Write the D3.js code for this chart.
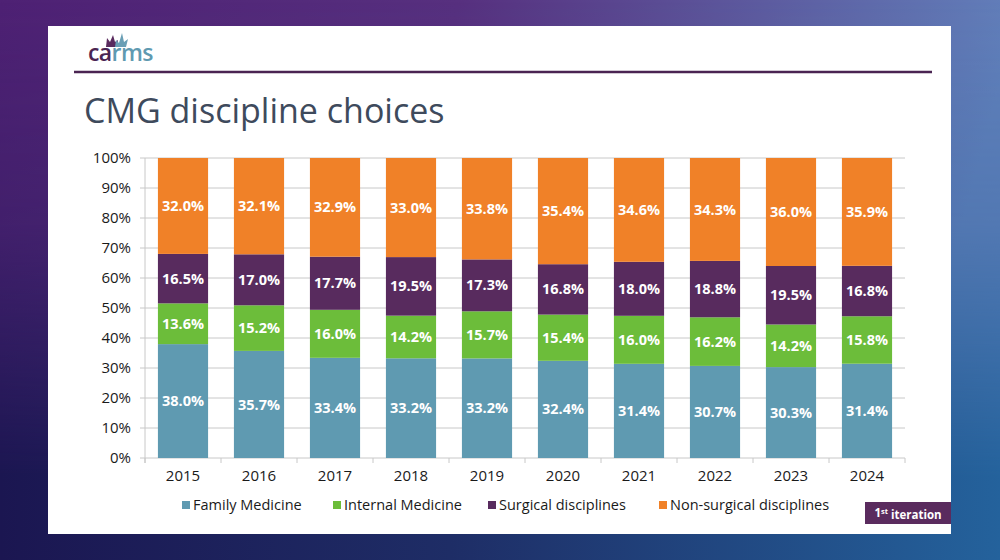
<!DOCTYPE html>
<html>
<head>
<meta charset="utf-8">
<script src="https://cdn.jsdelivr.net/npm/d3@7"></script>
<style>
  html, body { margin: 0; padding: 0; width: 1000px; height: 560px; overflow: hidden; }
  svg { display: block; font-family: "Open Sans", "Noto Sans", sans-serif; }
</style>
</head>
<body>
<svg id="chart" width="1000" height="560"></svg>
<script>
const years = ["2015","2016","2017","2018","2019","2020","2021","2022","2023","2024"];
const seriesNames = ["Family Medicine","Internal Medicine","Surgical disciplines","Non-surgical disciplines"];
const familyMedicine = [38.0,35.7,33.4,33.2,33.2,32.4,31.4,30.7,30.3,31.4];
const internalMedicine = [13.6,15.2,16.0,14.2,15.7,15.4,16.0,16.2,14.2,15.8];
const surgical = [16.5,17.0,17.7,19.5,17.3,16.8,18.0,18.8,19.5,16.8];
const nonSurgical = [32.0,32.1,32.9,33.0,33.8,35.4,34.6,34.3,36.0,35.9];
const yTicks = [0,10,20,30,40,50,60,70,80,90,100];
const colors = ["#5f9ab1","#6cbd3a","#582b5e","#f08128"];
const title = "CMG discipline choices";
const badge = "iteration";

const svg = d3.select("#chart");
const defs = svg.append("defs");
const g1 = defs.append("linearGradient").attr("id","bgH").attr("x1","0").attr("y1","0").attr("x2","1").attr("y2","0.15");
g1.append("stop").attr("offset","0").attr("stop-color","#4e2174");
g1.append("stop").attr("offset","0.45").attr("stop-color","#57307f");
g1.append("stop").attr("offset","1").attr("stop-color","#6280bb");
const g3 = defs.append("linearGradient").attr("id","bgB").attr("x1","0").attr("y1","0").attr("x2","1").attr("y2","0");
g3.append("stop").attr("offset","0").attr("stop-color","#1b1651");
g3.append("stop").attr("offset","0.45").attr("stop-color","#1e2d66");
g3.append("stop").attr("offset","1").attr("stop-color","#24629c");
const mg = defs.append("linearGradient").attr("id","fadeV").attr("x1","0").attr("y1","0").attr("x2","0").attr("y2","1");
mg.append("stop").attr("offset","0").attr("stop-color","#fff").attr("stop-opacity",0);
mg.append("stop").attr("offset","0.4").attr("stop-color","#fff").attr("stop-opacity",0.25);
mg.append("stop").attr("offset","0.85").attr("stop-color","#fff").attr("stop-opacity",1);
mg.append("stop").attr("offset","1").attr("stop-color","#fff").attr("stop-opacity",1);
defs.append("mask").attr("id","fadeMask").append("rect").attr("width",1000).attr("height",560).attr("fill","url(#fadeV)");

svg.append("rect").attr("width",1000).attr("height",560).attr("fill","url(#bgH)");
svg.append("rect").attr("width",1000).attr("height",560).attr("fill","url(#bgB)").attr("mask","url(#fadeMask)");

// white panel
svg.append("rect").attr("x",48).attr("y",26).attr("width",903).attr("height",508).attr("fill","#ffffff");
// header line
svg.append("line").attr("x1",74).attr("x2",932).attr("y1",72).attr("y2",72).attr("stroke","#4a2452").attr("stroke-width",2.5);

// logo
const logo = svg.append("g");
logo.append("path").attr("d","M106,47 L107,38 L110,42 L113,35 L115,42 L118,40 L117,47 Z").attr("fill","#5a2b5e");
logo.append("path").attr("d","M115,47 L116,40 L119,43 L122,33 L124,42 L128,39 L126,47 Z").attr("fill","#6a9fb5");
const lt = logo.append("text").attr("x",88).attr("y",61).attr("font-size",23).attr("font-weight",600).attr("letter-spacing",-0.6);
lt.append("tspan").attr("fill","#4a2452").text("ca");
lt.append("tspan").attr("fill","#5f9ab1").text("rms");

// title
svg.append("text").attr("x",84).attr("y",123).attr("font-size",34).attr("fill","#3e4a5c").text(title);

// chart
const plot = {left:145, right:905, top:158, bottom:458};
const x = d3.scaleBand().domain(years).range([plot.left, plot.right]).paddingInner(0.34).paddingOuter(0.17);
const y = d3.scaleLinear().domain([0,100]).range([plot.bottom, plot.top]);

// gridlines
svg.append("g").selectAll("line").data(yTicks).join("line")
  .attr("x1",plot.left-5).attr("x2",plot.right)
  .attr("y1",d=>y(d)).attr("y2",d=>y(d))
  .attr("stroke","#c8c8c8").attr("stroke-width",1);
svg.append("line").attr("x1",plot.left).attr("x2",plot.left).attr("y1",plot.top).attr("y2",plot.bottom+5).attr("stroke","#c8c8c8");
const bounds = d3.range(years.length+1).map(i => plot.left + i*(plot.right-plot.left)/years.length);
svg.append("g").selectAll("line").data(bounds).join("line")
  .attr("x1",d=>d).attr("x2",d=>d).attr("y1",plot.bottom).attr("y2",plot.bottom+5)
  .attr("stroke","#c8c8c8");

svg.append("g").selectAll("text").data(yTicks).join("text")
  .attr("x",plot.left-14).attr("y",d=>y(d)).attr("dy","0.35em")
  .attr("text-anchor","end").attr("font-size",15).attr("fill","#1a1a1a")
  .text(d=>d+"%");
svg.append("g").selectAll("text").data(years).join("text")
  .attr("x",d=>x(d)+x.bandwidth()/2).attr("y",481)
  .attr("text-anchor","middle").attr("font-size",15).attr("fill","#1a1a1a")
  .text(d=>d);

const rows = years.map((yr,i)=>({year:yr, s0:familyMedicine[i], s1:internalMedicine[i], s2:surgical[i], s3:nonSurgical[i]}));
const stack = d3.stack().keys(["s0","s1","s2","s3"]).offset(d3.stackOffsetExpand);
const series = stack(rows);

const layers = svg.append("g").selectAll("g").data(series).join("g").attr("fill",(d,i)=>colors[i]);
layers.selectAll("rect").data(d=>d).join("rect")
  .attr("x",d=>x(d.data.year)).attr("width",x.bandwidth())
  .attr("y",d=>y(d[1]*100)).attr("height",d=>y(d[0]*100)-y(d[1]*100));

const labels = svg.append("g").selectAll("g").data(series).join("g");
labels.selectAll("text").data(s=>s.map(d=>({d, key:s.key}))).join("text")
  .attr("x",o=>x(o.d.data.year)+x.bandwidth()/2)
  .attr("y",o=>y((o.d[0]+o.d[1])*50)).attr("dy","0.35em")
  .attr("text-anchor","middle").attr("font-size",14.5).attr("font-weight","bold").attr("fill","#ffffff")
  .text(o=>o.d.data[o.key].toFixed(1)+"%");

// legend
const legendX = [182,333,488,659];
const legend = svg.append("g").selectAll("g").data(seriesNames).join("g")
  .attr("transform",(d,i)=>`translate(${legendX[i]},505)`);
legend.append("rect").attr("x",0).attr("y",-4).attr("width",8).attr("height",8).attr("fill",(d,i)=>colors[i]);
legend.append("text").attr("x",11).attr("y",0).attr("dy","0.35em").attr("font-size",14.5).attr("fill","#1a1a1a").text(d=>d);

// badge
svg.append("rect").attr("x",865).attr("y",502).attr("width",86).attr("height",22).attr("fill","#5a2b5e");
const bt = svg.append("text").attr("x",908).attr("y",513).attr("dy","0.35em").attr("text-anchor","middle")
  .attr("font-size",11.5).attr("font-weight","bold").attr("fill","#ffffff");
bt.append("tspan").text("1");
bt.append("tspan").attr("font-size",7.5).attr("dy","-0.45em").text("st");
bt.append("tspan").attr("dy","0.45em").text(" "+badge);
</script>
</body>
</html>
